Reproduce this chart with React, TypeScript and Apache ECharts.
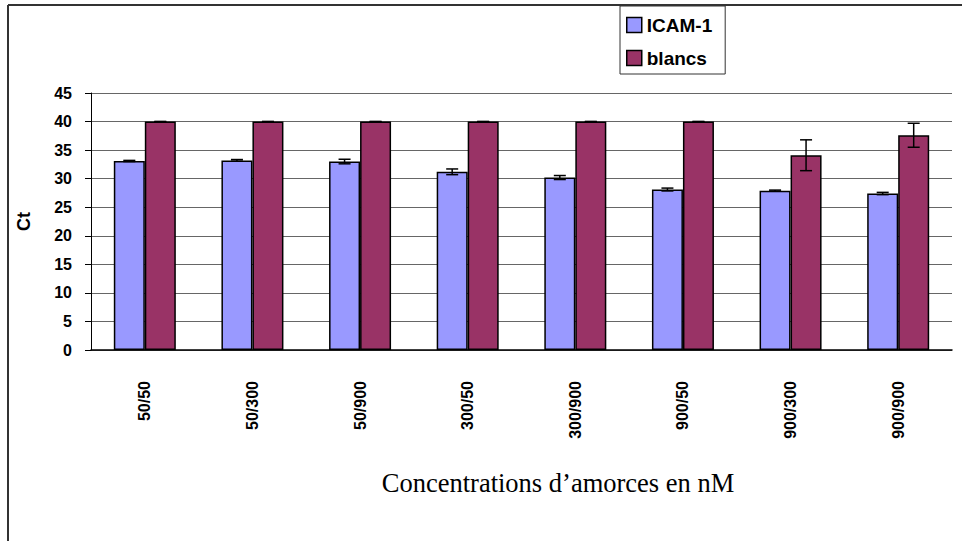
import { BarChart, CustomChart } from 'echarts/charts';
import {
  GraphicComponent,
  GridComponent,
  LegendComponent,
} from 'echarts/components';
import * as echarts from 'echarts/core';
import { SVGRenderer } from 'echarts/renderers';
import { useEffect, useRef } from 'react';

echarts.use([BarChart, CustomChart, GridComponent, LegendComponent, GraphicComponent, SVGRenderer]);

const categories = ['50/50', '50/300', '50/900', '300/50', '300/900', '900/50', '900/300', '900/900'];
const icamValues = [33.1, 33.2, 33.0, 31.2, 30.2, 28.1, 27.9, 27.4];
const icamErrors = [0.1, 0.15, 0.4, 0.5, 0.35, 0.25, 0.1, 0.2];
const blancsValues = [40, 40, 40, 40, 40, 40, 34.1, 37.6];
const blancsErrors = [0, 0, 0, 0, 0, 0, 2.7, 2.1];
const yTicks = { min: 0, max: 45, interval: 5 };

const BAR_WIDTH = 31;
const font = 'Arial, "Liberation Sans", sans-serif';

const errorSeries = (values: number[], errors: number[], offset: number) => ({
  type: 'custom',
  z: 5,
  silent: true,
  data: values.map((v, i) => [i, v - errors[i], v + errors[i]]),
  renderItem: (_params: any, api: any) => {
    const top = api.coord([api.value(0), api.value(2)]);
    const bottom = api.coord([api.value(0), api.value(1)]);
    const x = top[0] + offset;
    const style = { stroke: '#000', lineWidth: 1.5 };
    return {
      type: 'group',
      children: [
        { type: 'line', shape: { x1: x, y1: top[1], x2: x, y2: bottom[1] }, style },
        { type: 'line', shape: { x1: x - 6, y1: top[1], x2: x + 6, y2: top[1] }, style },
        { type: 'line', shape: { x1: x - 6, y1: bottom[1], x2: x + 6, y2: bottom[1] }, style },
      ],
    };
  },
});

export default function App() {
  const container = useRef<HTMLDivElement>(null);

  useEffect(() => {
    const element = container.current;
    if (!element) return undefined;
    const chart = echarts.init(element, undefined, { renderer: 'svg' });

    chart.setOption({
      animation: false,
      backgroundColor: '#fff',
      grid: { left: 91, right: 10, top: 93, bottom: 191 },
      legend: {
        data: ['ICAM-1', 'blancs'],
        orient: 'vertical',
        left: 620,
        top: 6,
        padding: [9, 13, 6, 6],
        itemGap: 13,
        itemWidth: 15,
        itemHeight: 15,
        icon: 'rect',
        borderColor: '#333',
        borderWidth: 1,
        itemStyle: { borderColor: '#000', borderWidth: 1.5 },
        textStyle: { fontFamily: font, fontWeight: 'bold', fontSize: 19, lineHeight: 20, color: '#000' },
      },
      xAxis: {
        type: 'category',
        data: categories,
        axisLine: { lineStyle: { color: '#000', width: 1.5 } },
        axisTick: { length: 6, lineStyle: { color: '#000' } },
        axisLabel: {
          rotate: 90,
          margin: 31,
          interval: 0,
          fontFamily: font,
          fontWeight: 'bold',
          fontSize: 16,
          color: '#000',
        },
      },
      yAxis: {
        type: 'value',
        ...yTicks,
        name: 'Ct',
        nameLocation: 'middle',
        nameGap: 58,
        nameRotate: 90,
        nameTextStyle: { fontFamily: font, fontWeight: 'bold', fontSize: 18, color: '#000' },
        axisLine: { show: true, lineStyle: { color: '#000', width: 1 } },
        axisTick: { show: true, length: 6, lineStyle: { color: '#000' } },
        axisLabel: { margin: 19, fontFamily: font, fontWeight: 'bold', fontSize: 16, color: '#000' },
        splitLine: { lineStyle: { color: '#666', width: 1.2 } },
      },
      graphic: [
        { type: 'line', shape: { x1: 8, y1: 5, x2: 962, y2: 5 }, style: { stroke: '#333', lineWidth: 2 } },
        { type: 'line', shape: { x1: 8, y1: 5, x2: 8, y2: 541 }, style: { stroke: '#333', lineWidth: 2 } },
        {
          type: 'text',
          x: 558,
          y: 483,
          style: {
            text: 'Concentrations d\u2019amorces en nM',
            fontFamily: '"Liberation Serif", "Times New Roman", serif',
            fontSize: 26.5,
            fill: '#000',
            align: 'center',
            verticalAlign: 'middle',
          },
        },
      ],
      series: [
        {
          name: 'ICAM-1',
          type: 'bar',
          data: icamValues,
          barWidth: BAR_WIDTH,
          barGap: '0%',
          itemStyle: { color: '#9999FF', borderColor: '#000', borderWidth: 1.5 },
        },
        {
          name: 'blancs',
          type: 'bar',
          data: blancsValues,
          barWidth: BAR_WIDTH,
          barGap: '0%',
          itemStyle: { color: '#993366', borderColor: '#000', borderWidth: 1.5 },
        },
        errorSeries(icamValues, icamErrors, -BAR_WIDTH / 2),
        errorSeries(blancsValues, blancsErrors, BAR_WIDTH / 2),
      ],
    });

    return () => chart.dispose();
  }, []);

  return (
    <div
      ref={container}
      style={{ position: 'absolute', left: 0, top: 0, width: 962, height: 541 }}
    />
  );
}
